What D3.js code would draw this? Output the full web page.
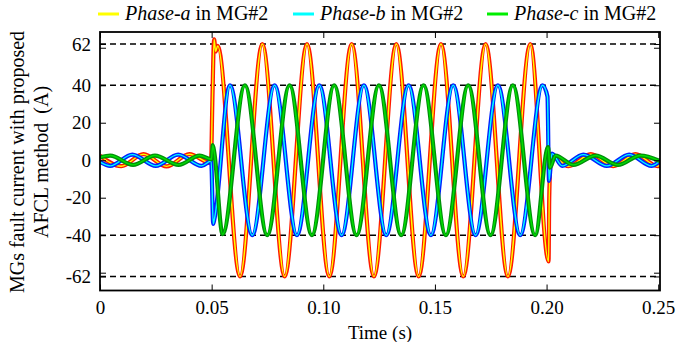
<!DOCTYPE html>
<html><head><meta charset="utf-8">
<script src="https://cdn.jsdelivr.net/npm/d3@7"></script>
<style>body{margin:0;background:#fff}svg{display:block}</style>
</head><body>
<svg id="c" width="681" height="342"></svg>
<script>
// ---- data ----
const xTicks = [0, 0.05, 0.10, 0.15, 0.20, 0.25];
const xTickLabels = ["0", "0.05", "0.10", "0.15", "0.20", "0.25"];
const yTicks = [-62, -60, -40, -20, 0, 20, 40, 60, 62];
const yTickLabels = [62, 40, 20, 0, -20, -40, -62];
const refLines = [62, 40, -40, -62];
const seriesNames = ["Phase-a", "Phase-b", "Phase-c"];

// turning points of each waveform (time in s, current in A)
const phaseA_t = [0, 0.0095, 0.0195, 0.0298, 0.0400, 0.0497, 0.0503, 0.0511, 0.0518, 0.0527,
  0.0627, 0.0727, 0.0827, 0.0927, 0.1027, 0.1127, 0.1227, 0.1327, 0.1427, 0.1527, 0.1627, 0.1727, 0.1827, 0.1927,
  0.2009, 0.2012, 0.2020, 0.2098, 0.2198, 0.2298, 0.2398, 0.2498, 0.2520];
const phaseA_i = [2.4, -3.2, 3.2, -3.3, 3.2, -1.5, 30, 64.5, 58, 61,
  -62, 62, -62, 62, -62, 62, -62, 62, -62, 62, -62, 62, -62, 62,
  -54, -20, 3, -3.2, 3.2, -3.2, 3.2, -3.2, -1.5];

const phaseB_t = [0, 0.0045, 0.0145, 0.0250, 0.0350, 0.0455, 0.0498, 0.0507, 0.0513,
  0.0582, 0.0682, 0.0782, 0.0882, 0.0982, 0.1082, 0.1182, 0.1282, 0.1382, 0.1482, 0.1582, 0.1682, 0.1782, 0.1882, 0.1982,
  0.2004, 0.2011, 0.2024, 0.2070, 0.2165, 0.2270, 0.2370, 0.2470, 0.2520];
const phaseB_i = [-0.9, -3, 3, -3, 3, -3, -0.5, -34, -31,
  40, -40, 40, -40, 40, -40, 40, -40, 40, -40, 40, -40, 40, -40, 40,
  34, -11, 3.5, -3, 3, -3, 3, -3, 1];

const phaseC_t = [0, 0.0046, 0.0148, 0.0246, 0.0352, 0.0446, 0.0499, 0.0505, 0.0512,
  0.0549, 0.0649, 0.0749, 0.0849, 0.0949, 0.1049, 0.1149, 0.1249, 0.1349, 0.1449, 0.1549, 0.1649, 0.1749, 0.1849, 0.1949,
  0.2007, 0.2015, 0.2040, 0.2120, 0.2220, 0.2320, 0.2420, 0.2520];
const phaseC_i = [1.5, 2.5, -2.5, 2.5, -2.5, 2.5, 0.5, 8, 4,
  -39.5, 40, -40, 40, -40, 40, -40, 40, -40, 40, -40, 40, -40, 40, -40,
  7, -4, 2.5, -2.5, 2.5, -2.5, 2.5, -1];

const outerColors = ["#ff1a00", "#0022ff", "#00900a"];
const innerColors = ["#ffff00", "#00ffff", "#00e000"];
const legendColors = ["#ffff00", "#00ffff", "#00ee00"];

// ---- drawing ----
const svg = d3.select("#c");
const font = "'Liberation Serif','Times New Roman',serif";
const L = 100, R = 660, T = 32, B = 290.5;
const x = d3.scaleLinear().domain([0, 0.2508]).range([L, R]);
const y = d3.scaleLinear().domain([-69.5, 68.4]).range([B, T]);

svg.append("rect").attr("width", 681).attr("height", 342).attr("fill", "#fff");

const defs = svg.append("defs");
defs.append("clipPath").attr("id", "clip").append("rect")
  .attr("x", L).attr("y", T).attr("width", R - L).attr("height", B - T);

// dashed reference lines
svg.append("g").selectAll("line").data(refLines).join("line")
  .attr("x1", L).attr("x2", R).attr("y1", d => y(d)).attr("y2", d => y(d))
  .attr("stroke", "#000").attr("stroke-width", 1.6).attr("stroke-dasharray", "6,4");

const series = [
  {t: phaseA_t, v: phaseA_i},
  {t: phaseB_t, v: phaseB_i},
  {t: phaseC_t, v: phaseC_i}
];
const line = d3.line().x(d => x(d[0])).y(d => y(d[1])).curve(d3.curveMonotoneX);
const plotG = svg.append("g").attr("clip-path", "url(#clip)");
series.forEach((s, k) => {
  const pts = s.t.map((t, j) => [t, s.v[j]]);
  plotG.append("path").attr("d", line(pts)).attr("fill", "none")
    .attr("stroke", outerColors[k]).attr("stroke-width", 4.2).attr("stroke-linejoin", "round");
  plotG.append("path").attr("d", line(pts)).attr("fill", "none")
    .attr("stroke", innerColors[k]).attr("stroke-width", 1.4).attr("stroke-linejoin", "round");
});

// axes (MATLAB-style box, inward ticks)
const tickLen = 6;
const xb = d3.axisBottom(x).tickValues(xTicks).tickSize(-tickLen).tickPadding(10)
  .tickFormat((d, i) => xTickLabels[i]);
const gxb = svg.append("g").attr("transform", `translate(0,${B})`).call(xb);
const xt = d3.axisTop(x).tickValues(xTicks).tickSize(-tickLen).tickFormat("");
const gxt = svg.append("g").attr("transform", `translate(0,${T})`).call(xt);
const yl = d3.axisLeft(y).tickValues(yTicks).tickSize(-tickLen).tickPadding(9)
  .tickFormat(d => yTickLabels.includes(d) ? d : "");
const gyl = svg.append("g").attr("transform", `translate(${L},0)`).call(yl);
const yr = d3.axisRight(y).tickValues(yTicks).tickSize(-tickLen).tickFormat("");
const gyr = svg.append("g").attr("transform", `translate(${R},0)`).call(yr);
[gxb, gxt, gyl, gyr].forEach(g => {
  g.attr("font-family", font);
  g.select(".domain").remove();
  g.selectAll(".tick line").attr("stroke", "#000").attr("stroke-width", 1);
  g.selectAll("text").attr("font-family", font).attr("font-size", 19).attr("fill", "#000");
});
svg.append("rect").attr("x", L).attr("y", T).attr("width", R - L).attr("height", B - T)
  .attr("fill", "none").attr("stroke", "#000").attr("stroke-width", 1.8);

// axis titles
svg.append("text").attr("x", 380).attr("y", 339).attr("text-anchor", "middle")
  .attr("font-family", font).attr("font-size", 19).text("Time (s)");
const yt = svg.append("text").attr("transform", "translate(0,162) rotate(-90)")
  .attr("text-anchor", "middle").attr("font-family", font).attr("font-size", 20);
yt.append("tspan").attr("x", 0).attr("y", 24).text("MGs fault current with proposed");
yt.append("tspan").attr("x", 0).attr("y", 48).text("AFCL method\u2009 (A)");

// legend
const legX = [98, 293, 487];
const lg = svg.append("g");
seriesNames.forEach((n, k) => {
  lg.append("line").attr("x1", legX[k]).attr("x2", legX[k] + 21).attr("y1", 14).attr("y2", 14)
    .attr("stroke", legendColors[k]).attr("stroke-width", 3);
  const tx = lg.append("text").attr("x", legX[k] + 27).attr("y", 20)
    .attr("font-family", font).attr("font-size", 20);
  tx.append("tspan").attr("font-style", "italic").text(n);
  tx.append("tspan").text(" in MG#2");
});
</script>
</body></html>
